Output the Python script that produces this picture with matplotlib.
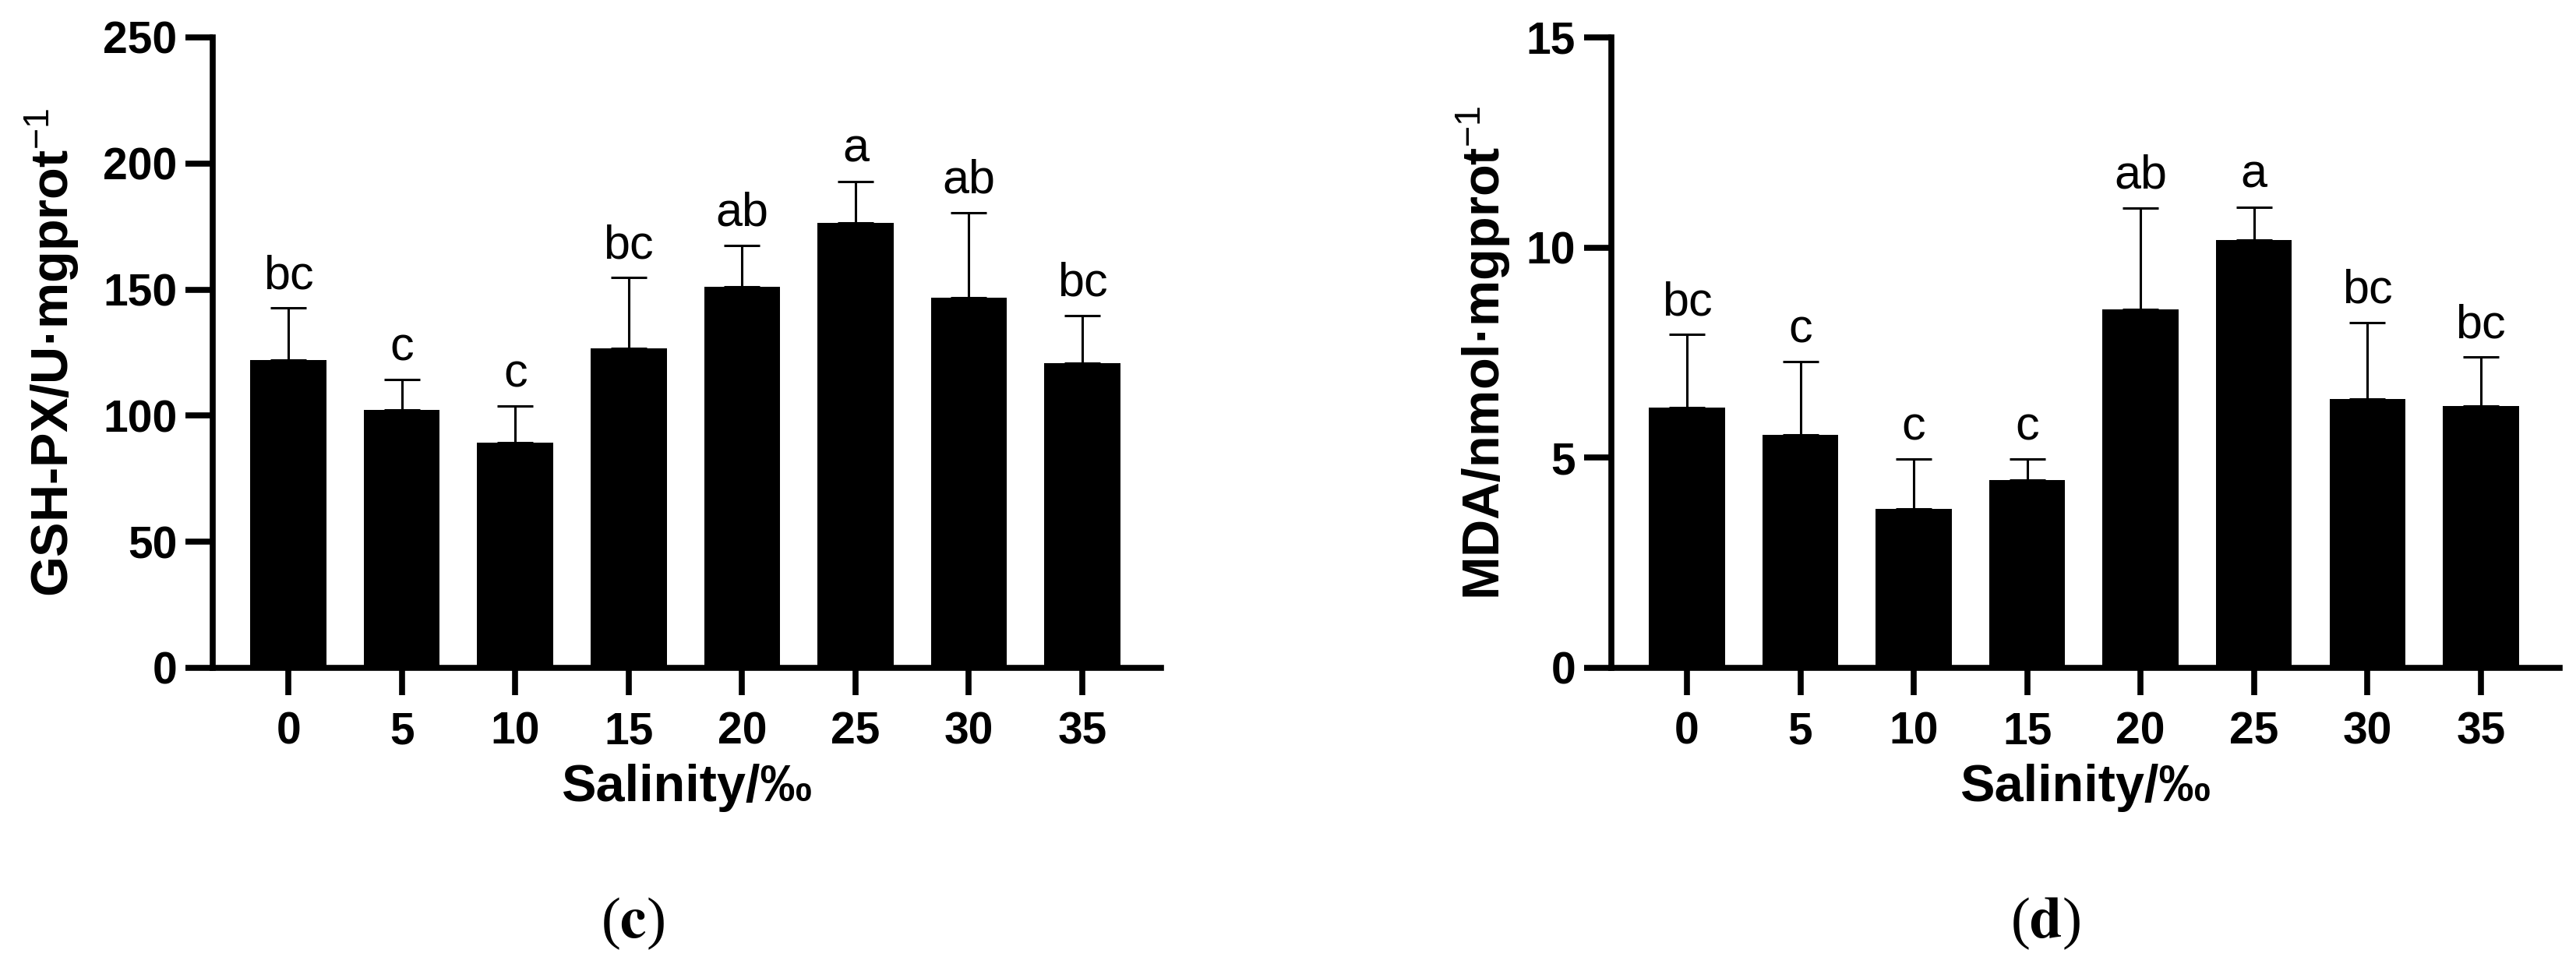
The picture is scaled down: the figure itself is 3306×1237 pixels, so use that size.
import matplotlib
matplotlib.use("Agg")
import matplotlib.pyplot as plt
import numpy as np

plt.rcParams['font.family'] = ['Liberation Sans', 'DejaVu Sans']
plt.rcParams['mathtext.fontset'] = 'custom'
plt.rcParams['mathtext.rm'] = 'Liberation Sans'
plt.rcParams['mathtext.it'] = 'Liberation Sans:italic'
plt.rcParams['mathtext.bf'] = 'Liberation Sans:bold'

salinity = ['0', '5', '10', '15', '20', '25', '30', '35']

# (c) GSH-PX
gsh_mean = [122.2, 102.4, 89.4, 126.6, 151.2, 176.6, 146.7, 120.9]
gsh_sd = [20.5, 11.8, 14.3, 28.1, 16.3, 16.3, 33.8, 18.9]
gsh_sig = ['bc', 'c', 'c', 'bc', 'ab', 'a', 'ab', 'bc']

# (d) MDA
mda_mean = [6.20, 5.54, 3.79, 4.47, 8.53, 10.17, 6.39, 6.23]
mda_sd = [1.73, 1.74, 1.17, 0.49, 2.41, 0.79, 1.83, 1.16]
mda_sig = ['bc', 'c', 'c', 'c', 'ab', 'a', 'bc', 'bc']


def draw_panel(ax, means, sds, sig, ymax, ystep, ylabel, ylab_x):
    x = np.arange(len(salinity))
    ax.bar(x, means, width=0.67, color='black', zorder=2)
    ax.errorbar(x, means, yerr=[np.zeros(len(x)), sds], fmt='none',
                ecolor='black', elinewidth=2.2, capsize=16.5, capthick=2.2,
                zorder=3)
    for xi, m, s, lab in zip(x, means, sds, sig):
        ax.annotate(lab, (xi, m + s), xytext=(0, 18), textcoords='offset points',
                    ha='center', va='baseline', fontsize=44)
    ax.set_xlim(-0.667, len(x) - 1 + 0.694)
    ax.set_ylim(0, ymax)
    ax.set_yticks(np.arange(0, ymax + 0.01, ystep))
    ax.set_xticks(x)
    ax.set_xticklabels(salinity)
    for sp in ['top', 'right']:
        ax.spines[sp].set_visible(False)
    for sp in ['left', 'bottom']:
        ax.spines[sp].set_linewidth(5.5)
    ax.tick_params(axis='both', width=5.5, length=25, labelsize=41)
    ax.tick_params(axis='x', pad=15)
    ax.tick_params(axis='y', pad=8)
    for t in ax.get_xticklabels() + ax.get_yticklabels():
        t.set_fontweight('bold')
    ax.set_xlabel('Salinity/‰', fontsize=48, fontweight='bold')
    ax.xaxis.set_label_coords(0.5, -0.152)
    ax.set_ylabel(ylabel, fontsize=48, fontweight='bold')
    ax.yaxis.set_label_coords(ylab_x, 0.5)


fig = plt.figure(figsize=(33.06, 12.37), dpi=100)
ax1 = fig.add_axes([0.0826, 0.3072, 0.3681, 0.654])
ax2 = fig.add_axes([0.6255, 0.3072, 0.3681, 0.654])

draw_panel(ax1, gsh_mean, gsh_sd, gsh_sig, 250, 50,
           'GSH-PX/U·mgprot$^{-1}$', -0.139)
draw_panel(ax2, mda_mean, mda_sd, mda_sig, 15, 5,
           'MDA/nmol·mgprot$^{-1}$', -0.104)

fig.text(0.2456, 0.042, r'($\mathbf{c}$)', fontsize=54, ha='center', va='center',
         family='Liberation Serif', math_fontfamily='stix')
fig.text(0.794, 0.042, r'($\mathbf{d}$)', fontsize=54, ha='center', va='center',
         family='Liberation Serif', math_fontfamily='stix')

fig.savefig('out.png', dpi=100, facecolor='white')
